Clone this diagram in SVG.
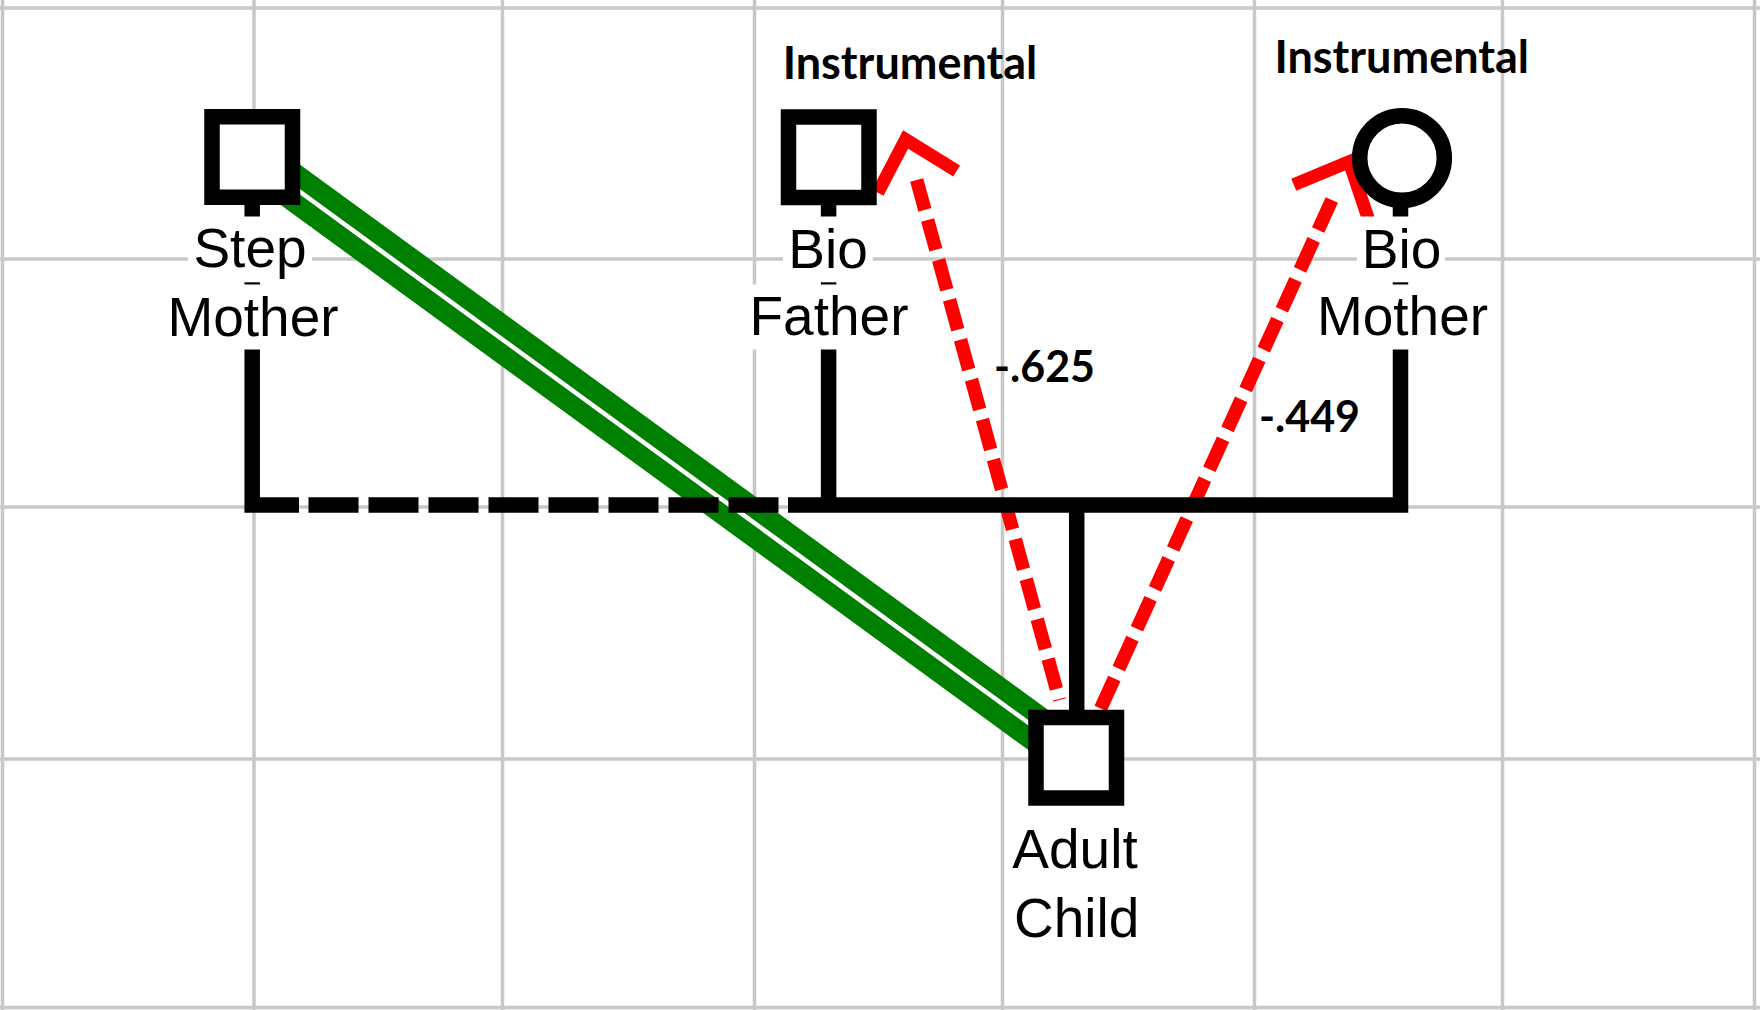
<svg xmlns="http://www.w3.org/2000/svg" width="1760" height="1010" viewBox="0 0 1760 1010">
<style>
.grid{stroke:#c8c8c8;stroke-width:3.5;fill:none}
.fam{stroke:#000;stroke-width:15.5;fill:none;stroke-linejoin:miter}
.famdash{stroke:#000;stroke-width:15.5;fill:none;stroke-dasharray:50 10}
.node{fill:#fff;stroke:#000;stroke-width:15.5}
.lblbg{fill:#fff}
.lbl{font-family:"Liberation Sans",Arial,sans-serif;font-size:55px;fill:#000;text-anchor:middle}
.ann{font-family:Lato,"Open Sans",sans-serif;font-weight:700;font-size:43px;fill:#000;text-anchor:middle}
.title{font-size:45px}
.green{stroke:#008000;stroke-width:44;fill:none}
.gap{stroke:#fff;stroke-width:4.5;fill:none}
.red{stroke:#ff0000;stroke-width:13.5;fill:none}
.head{stroke:#ff0000;stroke-width:13;fill:none;stroke-linejoin:miter;stroke-miterlimit:10}
</style>
<defs>
<marker id="arr" markerUnits="userSpaceOnUse" orient="auto-start-reverse" viewBox="-100 -100 200 200" markerWidth="200" markerHeight="200" refX="0" refY="0" overflow="visible">
<path class="head" d="M-1.9,-40.9 L42,0 L-1.9,40.9"/>
</marker>
</defs>
<rect x="0" y="0" width="1760" height="1010" fill="#fff"/>
<g id="grid">
<path class="grid" d="M2.5,0 V1010 M254,0 V1010 M502.5,0 V1010 M754.5,0 V1010 M1002.5,0 V1010 M1254.5,0 V1010 M1502.5,0 V1010 M1754.5,0 V1010 M0,8 H1760 M0,259 H1760 M0,507 H1760 M0,759 H1760 M0,1007.5 H1760"/>
</g>
<g id="connectors">
<line class="green" x1="252.2" y1="157" x2="1076.3" y2="757.7"/>
<line class="gap" x1="252.2" y1="157" x2="1076.3" y2="757.7"/>
<path class="red" d="M916.7,180 L1059.4,700" stroke-dasharray="31 10.4" marker-start="url(#arr)"/>
<path class="red" d="M1331.8,200 L1100,710" stroke-dasharray="33 10.8" marker-start="url(#arr)"/>
<path class="fam" d="M252.2,205 V505 H299"/>
<path class="famdash" d="M308.5,505 H778.5"/>
<path class="fam" d="M788,505 H1400.5 V206"/>
<path class="fam" d="M828.6,205 V505"/>
<path class="fam" d="M1076.7,505 V712"/>
</g>
<g id="step-mother">
<rect class="lblbg" x="236" y="216.5" width="34" height="12"/>
<rect class="lblbg" x="187.7" y="227" width="124.3" height="55.3"/>
<rect class="lblbg" x="160" y="284.5" width="186" height="65"/>
<rect class="node" x="212" y="116.75" width="80.5" height="80.5"/>
<text class="lbl" x="250" y="266.5">Step</text>
<text class="lbl" x="253" y="336">Mother</text>
</g>
<g id="bio-father">
<rect class="lblbg" x="783" y="216.5" width="89.7" height="65.8"/>
<rect class="lblbg" x="742" y="284.5" width="174" height="65"/>
<rect class="node" x="788.5" y="117" width="80.5" height="80.5"/>
<text class="lbl" x="828" y="268">Bio</text>
<text class="lbl" x="829" y="335">Father</text>
</g>
<g id="bio-mother">
<rect class="lblbg" x="1357" y="216.5" width="88" height="65.8"/>
<rect class="lblbg" x="1311" y="284.5" width="183" height="65"/>
<circle class="node" cx="1402" cy="158" r="42.3" stroke-width="14"/>
<text class="lbl" x="1401.5" y="268">Bio</text>
<text class="lbl" x="1402.5" y="335">Mother</text>
</g>
<g id="adult-child">
<rect class="node" x="1036" y="717.5" width="80.5" height="80.5"/>
<text class="lbl" x="1075" y="868">Adult</text>
<text class="lbl" x="1076.7" y="936.5">Child</text>
</g>
<g id="labels">
<text class="ann title" x="910" y="79.3">Instrumental</text>
<text class="ann title" x="1401.7" y="73.3">Instrumental</text>
<text class="ann" x="1044.5" y="382">-.625</text>
<text class="ann" x="1309.5" y="432">-.449</text>
</g>
</svg>
